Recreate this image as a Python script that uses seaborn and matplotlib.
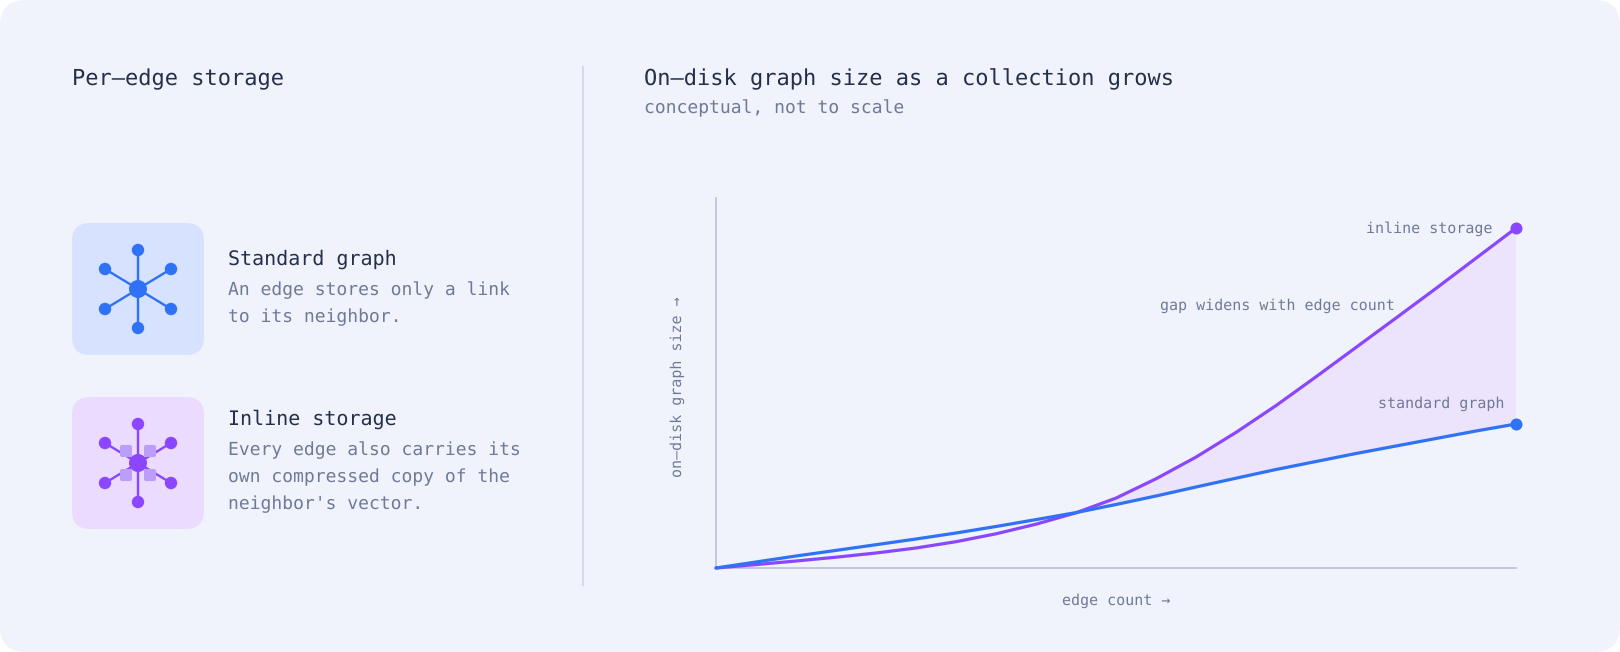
import matplotlib
matplotlib.use('Agg')
import pandas as pd
import seaborn as sns
from matplotlib import pyplot as plt
from matplotlib.patches import FancyBboxPatch, Circle

# values, arbitrary units (the chart is conceptual)
edge_count = [0, 40, 80, 120, 160, 200, 240, 280, 320, 360, 400, 440, 480, 520, 560, 600, 640, 680, 720, 760, 800]
standard_size = [0, 6, 12, 17.6, 23.3, 29, 35, 41.5, 48.4, 55.4, 63.5, 72, 81, 89.8, 98.5, 106.5, 114.5, 122, 129.5, 137, 144]
inline_size = [0, 3.4, 7, 10.8, 15, 20, 26.3, 34.2, 43.8, 55.2, 69.9, 89.2, 110.9, 135.6, 162.4, 191.2, 220.6, 250, 279.6, 309.8, 340]

BLUE = '#2f72f5'
PURPLE = '#8a47ff'
DARK = '#252e4a'
GREY = '#707a98'
FONT = 'DejaVu Sans Mono'
W, H = 1620, 652

sns.set_theme(style='white')
plt.rcParams['font.family'] = [FONT, 'DejaVu Sans']
plt.rcParams['text.hinting'] = 'none'
plt.rcParams['text.hinting_factor'] = 1


def px(size):
    return size * 72 / 100


def pixel_axes(fig):
    # whole figure in pixel coords
    a = fig.add_axes([0, 0, 1, 1])
    a.set_xlim(0, W)
    a.set_ylim(H, 0)
    a.axis('off')
    return a


def add_icon(ax, cy, bg, color, squares=False):
    cx = 138
    ax.add_patch(FancyBboxPatch((72, cy - 66), 132, 132, boxstyle='round,pad=0,rounding_size=18',
                                fc=bg, ec='none'))
    for dx, dy in [(0, -39), (0, 39), (-33, -20), (33, -20), (-33, 20), (33, 20)]:
        ax.plot([cx, cx + dx], [cy, cy + dy], color=color, lw=px(2.4), solid_capstyle='round')
        ax.add_patch(Circle((cx + dx, cy + dy), 6.2, fc=color, ec='none', zorder=3))
    ax.add_patch(Circle((cx, cy), 9, fc=color, ec='none', zorder=3))
    if squares:
        for dx, dy in [(-12, -12), (12, -12), (-12, 12), (12, 12)]:
            ax.add_patch(FancyBboxPatch((cx + dx - 6, cy + dy - 6), 12, 12,
                                        boxstyle='round,pad=0,rounding_size=2',
                                        fc='#bb9dfc', ec='none', zorder=4))


fig = plt.figure(figsize=(W / 100, H / 100), dpi=100, facecolor='white')

bg = pixel_axes(fig)
bg.add_patch(FancyBboxPatch((0, 0), W, H, boxstyle='round,pad=0,rounding_size=26', fc='#f0f3fb', ec='none'))
bg.plot([583, 583], [66, 586], color='#d6dae7', lw=px(2), solid_capstyle='butt')

add_icon(bg, 289, '#d6e2ff', BLUE)
add_icon(bg, 463, '#ebdcff', PURPLE, squares=True)

# chart
ax = fig.add_axes([716 / W, 1 - 568 / H, 800 / W, 370 / H])
ax.patch.set_alpha(0)

df = pd.DataFrame({'edges': edge_count, 'standard': standard_size, 'inline': inline_size})
ax.fill_between(df['edges'], df['standard'], df['inline'], where=df['inline'] >= df['standard'],
                interpolate=True, color='#ece4fc', lw=0)
sns.lineplot(data=df, x='edges', y='inline', color=PURPLE, lw=px(3.2), ax=ax, clip_on=False, solid_capstyle='round')
sns.lineplot(data=df, x='edges', y='standard', color=BLUE, lw=px(3.2), ax=ax, clip_on=False, solid_capstyle='round')
ends = df.iloc[[-1]]
sns.scatterplot(data=ends, x='edges', y='inline', color=PURPLE, s=px(12) ** 2, lw=0, ax=ax, clip_on=False, zorder=5)
sns.scatterplot(data=ends, x='edges', y='standard', color=BLUE, s=px(12) ** 2, lw=0, ax=ax, clip_on=False, zorder=5)

ax.set_xlim(0, 800)
ax.set_ylim(0, 370)
ax.set_xticks([])
ax.set_yticks([])
ax.set_xlabel('')
ax.set_ylabel('')
sns.despine(ax=ax)
for side in ['left', 'bottom']:
    ax.spines[side].set_color('#b9bfd3')
    ax.spines[side].set_linewidth(px(1.6))
    ax.spines[side].set_zorder(1)

# all text goes on top of the chart
top = pixel_axes(fig)
top.patch.set_alpha(0)


def label(x, y, s, size, color=GREY, ha='left'):
    top.text(x, y, s, fontsize=px(size), color=color, ha=ha, va='baseline', family=[FONT, 'DejaVu Sans'])


label(72, 85, 'Per\u2013edge storage', 22, DARK)
label(644, 85, 'On\u2013disk graph size as a collection grows', 22, DARK)
label(644, 113, 'conceptual, not to scale', 18)

label(228, 265, 'Standard graph', 20, DARK)
label(228, 295, 'An edge stores only a link', 18)
label(228, 322, 'to its neighbor.', 18)
label(228, 425, 'Inline storage', 20, DARK)
label(228, 455, 'Every edge also carries its', 18)
label(228, 482, 'own compressed copy of the', 18)
label(228, 509, "neighbor's vector.", 18)

label(1492, 233, 'inline storage', 15, ha='right')
label(1395, 310, 'gap widens with edge count', 15, ha='right')
label(1504, 408, 'standard graph', 15, ha='right')
label(1116, 605, 'edge count \u2192', 15, ha='center')
top.text(678, 387, 'on\u2013disk graph size \u2192', fontsize=px(15), color=GREY, rotation=90,
         ha='center', va='center', family=[FONT, 'DejaVu Sans'])

fig.savefig('out.png', dpi=100, facecolor='white')
